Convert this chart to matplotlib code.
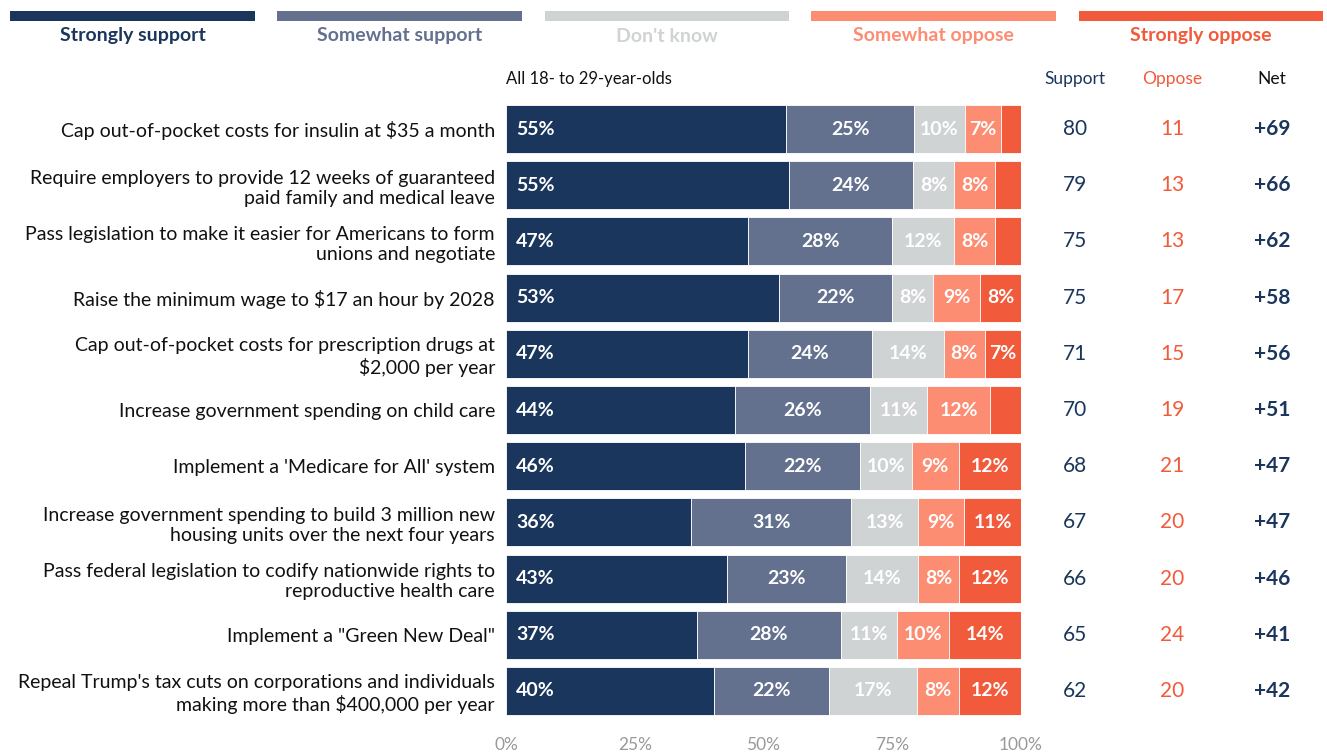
import numpy as np
import matplotlib.pyplot as plt

plt.rcParams['font.family'] = ['Lato', 'DejaVu Sans']

# data
items = [
    "Cap out-of-pocket costs for insulin at $35 a month",
    "Require employers to provide 12 weeks of guaranteed\npaid family and medical leave",
    "Pass legislation to make it easier for Americans to form\nunions and negotiate",
    "Raise the minimum wage to $17 an hour by 2028",
    "Cap out-of-pocket costs for prescription drugs at\n$2,000 per year",
    "Increase government spending on child care",
    "Implement a 'Medicare for All' system",
    "Increase government spending to build 3 million new\nhousing units over the next four years",
    "Pass federal legislation to codify nationwide rights to\nreproductive health care",
    "Implement a \"Green New Deal\"",
    "Repeal Trump's tax cuts on corporations and individuals\nmaking more than $400,000 per year",
]
strongly_support = [55, 55, 47, 53, 47, 44, 46, 36, 43, 37, 40]
somewhat_support = [25, 24, 28, 22, 24, 26, 22, 31, 23, 28, 22]
dont_know = [10, 8, 12, 8, 14, 11, 10, 13, 14, 11, 17]
somewhat_oppose = [7, 8, 8, 9, 8, 12, 9, 9, 8, 10, 8]
strongly_oppose = [4, 5, 5, 8, 7, 6, 12, 11, 12, 14, 12]
support = [80, 79, 75, 75, 71, 70, 68, 67, 66, 65, 62]
oppose = [11, 13, 13, 17, 15, 19, 21, 20, 20, 24, 20]
net = [69, 66, 62, 58, 56, 51, 47, 47, 46, 41, 42]

names = ["Strongly support", "Somewhat support", "Don't know", "Somewhat oppose", "Strongly oppose"]
colors = ["#1b365d", "#63718f", "#d0d3d4", "#fd8d72", "#f15a3a"]
navy = "#1b365d"
red = "#f15a3a"

series = np.array([strongly_support, somewhat_support, dont_know, somewhat_oppose, strongly_oppose], dtype=float)
shares = series / series.sum(axis=0) * 100

fig = plt.figure(figsize=(13.27, 7.53), dpi=100)
ax = fig.add_axes([506/1327, 34/753, 515/1327, 618/753])

y = np.arange(len(items))
left = np.zeros(len(items))
for k in range(5):
    ax.barh(y, shares[k], left=left, height=0.855, color=colors[k], edgecolor='white', linewidth=0.6)
    for i in range(len(items)):
        v = series[k, i]
        if v >= 7:
            if k == 0:
                ax.text(left[i] + 2, y[i], f"{int(v)}%", ha='left', va='center',
                        color='white', fontsize=14, fontweight='bold')
            else:
                ax.text(left[i] + shares[k, i] / 2, y[i], f"{int(v)}%", ha='center', va='center',
                        color='white', fontsize=14, fontweight='bold')
    left += shares[k]

ax.set_xlim(0, 100)
ax.set_ylim(len(items) - 0.5, -0.5)
ax.set_yticks(y)
ax.set_yticklabels(items, fontsize=14, color='#111111', linespacing=1.2)
ax.set_xticks([0, 25, 50, 75, 100])
ax.set_xticklabels(["0%", "25%", "50%", "75%", "100%"], fontsize=12.5, color='#999999')
ax.tick_params(axis='both', length=0)
ax.tick_params(axis='y', pad=8)
ax.tick_params(axis='x', pad=13)
for s in ax.spines.values():
    s.set_visible(False)

ax.text(0, 1.035, "All 18- to 29-year-olds", transform=ax.transAxes, ha='left', va='center',
        fontsize=12, color='#111111')

# side columns
cols = [(1075, "Support", support, navy, 'normal'),
        (1172, "Oppose", oppose, red, 'normal'),
        (1272, "Net", net, navy, 'bold')]
for xp, head, vals, c, w in cols:
    xf = xp / 1327
    fig.text(xf, 1 - 79/753, head, ha='center', va='center', fontsize=12.5,
             color=(c if head != "Net" else '#111111'))
    for i, v in enumerate(vals):
        yd = ax.transData.transform((0, y[i]))[1]
        yf = yd / fig.get_size_inches()[1] / fig.dpi
        txt = f"+{v}" if head == "Net" else str(v)
        fig.text(xf, yf, txt, ha='center', va='center', fontsize=15, color=c, fontweight=w)

# legend
seg = [(10, 255), (277, 522), (545, 789), (811, 1056), (1079, 1323)]
for (x0, x1), name, c in zip(seg, names, colors):
    lax = fig.add_axes([x0/1327, 1 - 21/753, (x1 - x0)/1327, 10/753])
    lax.axhspan(0, 1, color=c)
    lax.set_xlim(0, 1)
    lax.set_ylim(0, 1)
    lax.axis('off')
    fig.text((x0 + x1) / 2 / 1327, 1 - 36/753, name, ha='center', va='center',
             fontsize=14, color=c, fontweight='bold')

fig.savefig("out.png", dpi=100)
